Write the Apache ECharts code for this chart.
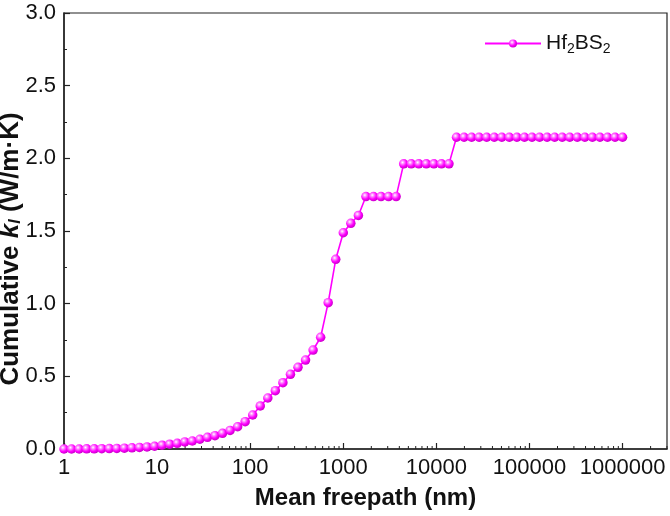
<!DOCTYPE html>
<html>
<head>
<meta charset="utf-8">
<script src="https://cdn.jsdelivr.net/npm/echarts@6/dist/echarts.min.js"></script>
<style>
  html, body { margin: 0; padding: 0; background: #fff; }
  #chart { width: 670px; height: 516px; }
</style>
</head>
<body>
<div id="chart"></div>
<script>
// mean free path (nm) of each point
const freePath = [
  1, 1.205, 1.453, 1.751, 2.110, 2.543, 3.065, 3.694, 4.452, 5.366,
  6.467, 7.795, 9.397, 11.33, 13.65, 16.45, 19.83, 23.90, 28.80, 34.71,
  41.84, 50.43, 60.78, 73.26, 88.29, 106.4, 128.3, 154.6, 186.3, 224.6,
  270.7, 326.2, 393.2, 473.9, 571.2, 688.4, 829.7, 1000, 1205, 1453,
  1751, 2110, 2543, 3065, 3694, 4452, 5366, 6467, 7795, 9397,
  11330, 13650, 16450, 19830, 23900, 28800, 34710, 41840, 50430, 60780,
  73260, 88290, 106400, 128300, 154600, 186300, 224600, 270700, 326200, 393200,
  473900, 571200, 688400, 829700, 1000000
];
// cumulative kappa_l (W/m.K)
const kappa = [
  0, 0, 0, 0.001, 0.001, 0.002, 0.003, 0.004, 0.006, 0.008,
  0.011, 0.014, 0.019, 0.026, 0.033, 0.039, 0.049, 0.055, 0.067, 0.080,
  0.092, 0.108, 0.128, 0.153, 0.188, 0.234, 0.296, 0.351, 0.401, 0.456,
  0.514, 0.562, 0.612, 0.681, 0.769, 1.007, 1.305, 1.488, 1.553, 1.607,
  1.737, 1.737, 1.737, 1.737, 1.737, 1.962, 1.962, 1.962, 1.962, 1.962,
  1.962, 1.962, 2.145, 2.145, 2.145, 2.145, 2.145, 2.145, 2.145, 2.145,
  2.145, 2.145, 2.145, 2.145, 2.145, 2.145, 2.145, 2.145, 2.145, 2.145,
  2.145, 2.145, 2.145, 2.145, 2.145
];
const xTickLabels = ['1', '10', '100', '1000', '10000', '100000', '1000000'];
const yTickLabels = ['0.0', '0.5', '1.0', '1.5', '2.0', '2.5', '3.0'];
const minorMultipliers = [2, 3, 4, 5, 6, 7, 8, 9];
const decades = [1, 10, 100, 1000, 10000, 100000, 1000000];

const minorTicks = [];
decades.forEach(d => minorMultipliers.forEach(m => {
  if (m * d <= 3000000) minorTicks.push([m * d, 0]);
}));

const magenta = '#ff00ff';
const ball = {
  type: 'radial', x: 0.38, y: 0.35, r: 0.7,
  colorStops: [
    { offset: 0, color: '#ffffff' },
    { offset: 0.25, color: '#ff88ff' },
    { offset: 0.6, color: '#ff00ff' },
    { offset: 1, color: '#c000c0' }
  ]
};

const chart = echarts.init(document.getElementById('chart'), null, { renderer: 'canvas' });

chart.setOption({
  animation: false,
  backgroundColor: '#fff',
  textStyle: { fontFamily: 'Liberation Sans, Arial, sans-serif' },
  grid: {
    left: 64, right: 3, top: 13, bottom: 67,
    outerBoundsMode: 'none',
    containLabel: false,
    show: true, borderColor: '#222', borderWidth: 1.2, backgroundColor: 'transparent'
  },
  legend: {
    data: ['Hf2BS2'],
    left: 479, top: 28,
    itemWidth: 56, itemHeight: 10, itemGap: 6,
    formatter: () => 'Hf{sub|2}BS{sub|2}',
    textStyle: {
      fontSize: 21, color: '#111',
      rich: { sub: { fontSize: 14, verticalAlign: 'bottom', padding: [12, 0, 0, 0] } }
    }
  },
  xAxis: {
    type: 'log',
    logBase: 10,
    min: 1, max: 3000000,
    name: 'Mean freepath (nm)',
    nameLocation: 'middle',
    nameGap: 37,
    nameMoveOverlap: false,
    nameTextStyle: { fontSize: 24, fontWeight: 'bold', color: '#111' },
    axisLine: { lineStyle: { color: '#222', width: 1.5 } },
    axisTick: { inside: true, length: 6, lineStyle: { color: '#222', width: 1.2 } },
    splitLine: { show: false },
    axisLabel: {
      fontSize: 22, color: '#111', margin: 8, showMaxLabel: false, hideOverlap: false,
      formatter: v => {
        const i = Math.round(Math.log10(v));
        return Math.abs(Math.log10(v) - i) < 1e-6 && xTickLabels[i] ? xTickLabels[i] : '';
      }
    }
  },
  yAxis: {
    type: 'value',
    min: 0, max: 3, interval: 0.5,
    name: 'Cumulative {i|k}{sub|l} (W/m·K)',
    nameLocation: 'middle',
    nameGap: 40,
    nameRotate: 90,
    nameMoveOverlap: false,
    nameTextStyle: {
      fontSize: 26, fontWeight: 'bold', color: '#111',
      padding: [0, 36, 0, 0],
      rich: {
        i: { fontSize: 26, fontWeight: 'bold', fontStyle: 'italic', color: '#111' },
        sub: { fontSize: 16, fontWeight: 'bold', fontStyle: 'italic', color: '#111', verticalAlign: 'bottom', padding: [11, 0, 0, 0] }
      }
    },
    axisLine: { show: true, lineStyle: { color: '#222', width: 1.5 } },
    axisTick: { show: true, inside: true, length: 6, lineStyle: { color: '#222', width: 1.2 } },
    minorTick: { show: true, splitNumber: 2, length: 3, lineStyle: { color: '#222', width: 1 } },
    splitLine: { show: false },
    axisLabel: {
      fontSize: 22, color: '#111', margin: 8,
      formatter: v => yTickLabels[Math.round(v / 0.5)]
    }
  },
  series: [
    {
      name: 'Hf2BS2',
      type: 'line',
      data: freePath.map((x, i) => [x, kappa[i]]),
      showAllSymbol: true,
      symbol: 'circle',
      symbolSize: 9.5,
      lineStyle: { color: magenta, width: 1.6 },
      itemStyle: { color: ball, borderWidth: 0 },
      z: 3
    },
    {
      name: 'minor',
      type: 'custom',
      data: minorTicks,
      silent: true,
      z: 2,
      renderItem: (params, api) => {
        const p = api.coord([api.value(0), 0]);
        return {
          type: 'line',
          shape: { x1: p[0], y1: p[1], x2: p[0], y2: p[1] - 3 },
          style: { stroke: '#222', lineWidth: 1 }
        };
      }
    }
  ]
});
</script>
</body>
</html>
